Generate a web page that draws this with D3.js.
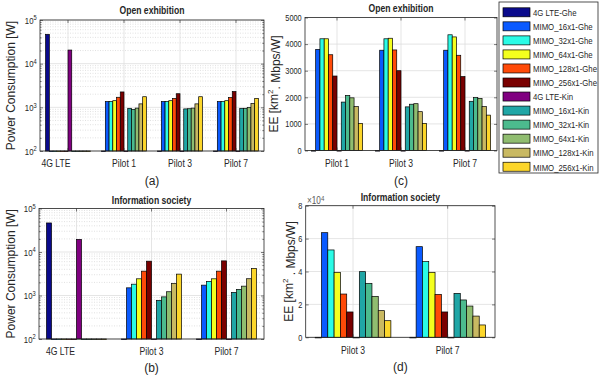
<!DOCTYPE html>
<html>
<head>
<meta charset="utf-8">
<script src="https://cdn.jsdelivr.net/npm/d3@7"></script>
<style>
body { margin: 0; background: #fff; }
svg text { font-family: "Liberation Sans", Arial, sans-serif; fill: #262626; }
</style>
</head>
<body>
<svg id="fig" width="600" height="381"></svg>
<script>
// series (legend order)
const seriesNames = ["4G LTE-Ghe", "MIMO_16x1-Ghe", "MIMO_32x1-Ghe", "MIMO_64x1-Ghe", "MIMO_128x1-Ghe", "MIMO_256x1-Ghe",
  "4G LTE-Kin", "MIMO_16x1-Kin", "MIMO_32x1-Kin", "MIMO_64x1-Kin", "MIMO_128x1-Kin", "MIMO_256x1-Kin"];
const seriesColors = ["#0a0a8c", "#0a5aff", "#2afbe6", "#f4ff1e", "#ff4a08", "#7a0000",
  "#800080", "#20a6a6", "#4cbb8e", "#90bd70", "#c9b962", "#fcd62a"];

// categories
const catsOpenPower = ["4G LTE", "Pilot 1", "Pilot 3", "Pilot 7"];
const catsInfoPower = ["4G LTE", "Pilot 3", "Pilot 7"];
const catsOpenEE = ["Pilot 1", "Pilot 3", "Pilot 7"];
const catsInfoEE = ["Pilot 3", "Pilot 7"];

// power consumption [W], one row per category, one value per series
const powerOpen = [
  [47000, 0, 0, 0, 0, 0, 20500, 0, 0, 0, 0, 0],
  [0, 1350, 1360, 1420, 1700, 2250, 0, 950, 900, 960, 1200, 1750],
  [0, 1350, 1350, 1420, 1600, 2050, 0, 920, 930, 960, 1200, 1750],
  [0, 1350, 1350, 1420, 1680, 2300, 0, 950, 950, 1000, 1230, 1600]
];
const powerInfo = [
  [46500, 0, 0, 0, 0, 0, 19500, 0, 0, 0, 0, 0],
  [0, 1500, 1820, 2420, 3630, 6150, 0, 770, 930, 1220, 1890, 3100],
  [0, 1730, 2110, 2420, 3630, 6250, 0, 1180, 1380, 1640, 2430, 4180]
];

// energy efficiency [km^2 . Mbps/W]
const eeOpen = [
  [0, 3800, 4200, 4200, 3600, 2800, 0, 1820, 2070, 1980, 1650, 1020],
  [0, 3770, 4200, 4220, 3780, 3000, 0, 1640, 1740, 1760, 1460, 1020],
  [0, 3770, 4350, 4270, 3580, 2780, 0, 1850, 1990, 1960, 1650, 1330]
];
const eeInfo = [
  [0, 63600, 53100, 39500, 26300, 15400, 0, 39900, 32800, 24900, 16200, 10100],
  [0, 55100, 46000, 39500, 26100, 15400, 0, 26700, 22700, 19000, 12900, 7500]
];

// tick values
const powerTicks = [1e2, 1e3, 1e4, 1e5];
const eeOpenTicks = [0, 1000, 2000, 3000, 4000, 5000];
const eeInfoTicks = [0, 20000, 40000, 60000, 80000];

const svg = d3.select("#fig");
const axisColor = "#262626";
const narrow = 0.82; // the figure's horizontal text is condensed

// text placed at (x,y) and squeezed horizontally
function label(parent, x, y, size, str) {
  return parent.append("text")
    .attr("transform", "translate(" + x + "," + y + ") scale(" + narrow + ",1)")
    .attr("dominant-baseline", "central")
    .style("font-size", size + "px").text(str);
}

function drawPanel(p) {
  const w = p.right - p.left, h = p.bottom - p.top;
  const g = svg.append("g").attr("transform", "translate(" + p.left + "," + p.top + ")");

  const x0 = d3.scaleBand().domain(p.cats).range([0, w]).paddingInner(0.2).paddingOuter(0.1);
  const x1 = d3.scaleBand().domain(d3.range(seriesNames.length)).range([0, x0.bandwidth()]);
  const y = p.log
    ? d3.scaleLog().domain(d3.extent(p.ticks)).range([h, 0])
    : d3.scaleLinear().domain(d3.extent(p.ticks)).range([h, 0]);
  const centre = c => x0(c) + x0.bandwidth() / 2;

  // minor values on log axes
  let minor = [];
  if (p.log) {
    for (let k = 0; k < p.ticks.length - 1; k++)
      for (let m = 2; m <= 9; m++) minor.push(p.ticks[k] * m);
  }

  // grid
  g.append("g").selectAll("line").data(minor).join("line")
    .attr("x1", 0).attr("x2", w).attr("y1", d => y(d)).attr("y2", d => y(d))
    .attr("stroke", "#d4d4d4").attr("stroke-width", 0.7).attr("stroke-dasharray", "1,1.5");
  g.append("g").selectAll("line").data(p.ticks).join("line")
    .attr("x1", 0).attr("x2", w).attr("y1", d => y(d)).attr("y2", d => y(d))
    .attr("stroke", "#dedede").attr("stroke-width", 0.8);
  g.append("g").selectAll("line").data(p.cats).join("line")
    .attr("x1", centre).attr("x2", centre).attr("y1", 0).attr("y2", h)
    .attr("stroke", "#dedede").attr("stroke-width", 0.8);

  // bars
  const groups = g.append("g").selectAll("g").data(p.data).join("g")
    .attr("transform", (d, i) => "translate(" + x0(p.cats[i]) + ",0)");
  groups.selectAll("rect").data(d => d.map((v, j) => ({ v: v, j: j }))).join("rect")
    .attr("x", d => x1(d.j))
    .attr("width", x1.bandwidth())
    .attr("y", d => d.v > y.domain()[0] ? y(d.v) : h)
    .attr("height", d => d.v > y.domain()[0] ? h - y(d.v) : 0.6)
    .attr("fill", d => seriesColors[d.j])
    .attr("stroke", "#000").attr("stroke-width", 0.7);

  // axes (ticks pointing inward, as in the original)
  const left = d3.axisLeft(y).tickValues(p.ticks).tickSizeInner(-3).tickSizeOuter(0).tickPadding(4);
  if (p.log) left.tickFormat(() => "");
  else left.tickFormat(p.fmt);
  const la = g.append("g").call(left);
  la.selectAll(".tick text").style("font-size", "9px");
  if (p.log) {
    la.selectAll(".tick text").style("font-size", "9.5px").each(function (d) {
      const t = d3.select(this);
      t.append("tspan").text("10");
      t.append("tspan").attr("dy", "-0.45em").style("font-size", "7px").text(Math.round(Math.log10(d)));
    });
  }
  g.append("g").attr("transform", "translate(" + w + ",0)")
    .call(d3.axisRight(y).tickValues(p.ticks).tickSizeInner(-3).tickSizeOuter(0).tickFormat(() => ""));
  if (p.log) {
    g.append("g").call(d3.axisLeft(y).tickValues(minor).tickSizeInner(-1.6).tickSizeOuter(0).tickFormat(() => ""));
    g.append("g").attr("transform", "translate(" + w + ",0)")
      .call(d3.axisRight(y).tickValues(minor).tickSizeInner(-1.6).tickSizeOuter(0).tickFormat(() => ""));
  }
  const ba = g.append("g").attr("transform", "translate(0," + h + ")")
    .call(d3.axisBottom(x0).tickSizeInner(-3).tickSizeOuter(0).tickPadding(9));
  ba.selectAll(".tick text").style("font-size", "10.5px")
    .attr("dx", d => d === "4G LTE" ? p.lteDx / narrow : 0);
  g.append("g").call(d3.axisTop(x0).tickSizeInner(-3).tickSizeOuter(0).tickFormat(() => ""));

  g.selectAll(".domain").remove();
  g.selectAll(".tick line").attr("stroke", axisColor).attr("stroke-width", 0.6);
  g.selectAll(".tick text").attr("fill", axisColor).attr("transform", "scale(" + narrow + ",1)");

  // frame
  g.append("rect").attr("width", w).attr("height", h)
    .attr("fill", "none").attr("stroke", axisColor).attr("stroke-width", 0.8);

  // title
  label(g, w / 2, p.titleY - p.top, 10.5, p.title)
    .attr("text-anchor", "middle").style("font-weight", "bold");

  // y label (vertical text is not condensed)
  const yl = svg.append("text")
    .attr("transform", "translate(" + p.ylabelX + "," + (p.top + h / 2) + ") rotate(-90)")
    .attr("text-anchor", "middle").attr("dominant-baseline", "central")
    .style("font-size", "12px");
  p.ylabel.forEach(part => {
    const ts = yl.append("tspan").text(part.t);
    if (part.sup) ts.attr("dy", "-0.45em").style("font-size", "8px");
    if (part.down) ts.attr("dy", "0.45em");
  });

  // panel tag
  svg.append("text").attr("x", p.left + w / 2).attr("y", p.tagY)
    .attr("text-anchor", "middle").attr("dominant-baseline", "central")
    .style("font-size", "12px").text(p.tag);
}

const powerLabel = [{ t: "Power Consumption [W]" }];

drawPanel({
  left: 40, right: 264, top: 20, bottom: 151, cats: catsOpenPower, data: powerOpen,
  log: true, ticks: powerTicks, title: "Open exhibition", titleY: 10,
  ylabel: powerLabel, ylabelX: 11, tag: "(a)", tagY: 181, lteDx: -12
});

drawPanel({
  left: 39, right: 264, top: 208.5, bottom: 339, cats: catsInfoPower, data: powerInfo,
  log: true, ticks: powerTicks, title: "Information society", titleY: 200,
  ylabel: powerLabel, ylabelX: 11, tag: "(b)", tagY: 368, lteDx: -16
});

drawPanel({
  left: 305, right: 497, top: 17.5, bottom: 150.5, cats: catsOpenEE, data: eeOpen,
  log: false, ticks: eeOpenTicks, fmt: d3.format("d"), title: "Open exhibition", titleY: 8,
  ylabel: [{ t: "EE [km" }, { t: "2", sup: true }, { t: ". Mbps/W]", down: true }],
  ylabelX: 274, tag: "(c)", tagY: 181, lteDx: 0
});

drawPanel({
  left: 305.7, right: 495, top: 205.7, bottom: 337.3, cats: catsInfoEE, data: eeInfo,
  log: false, ticks: eeInfoTicks, fmt: d => d / 1e4, title: "Information society", titleY: 197,
  ylabel: [{ t: "EE [km" }, { t: "2", sup: true }, { t: " . Mbps/W]", down: true }],
  ylabelX: 289, tag: "(d)", tagY: 367, lteDx: 0
});

// exponent note of panel (d)
const expo = label(svg, 307, 201, 10, null).style("fill", "#5a5a5a");
expo.append("tspan").text("\u00d710");
expo.append("tspan").attr("dy", "-0.45em").style("font-size", "7.5px").text("4");

// legend
const leg = svg.append("g").attr("transform", "translate(499,2)");
leg.append("rect").attr("width", 99).attr("height", 171)
  .attr("fill", "#fff").attr("stroke", axisColor).attr("stroke-width", 0.8);
const rows = leg.selectAll("g.row").data(seriesNames).join("g").attr("class", "row")
  .attr("transform", (d, i) => "translate(4," + (10.3 + i * 14.04) + ")");
rows.append("rect").attr("y", -4.5).attr("width", 27).attr("height", 9)
  .attr("fill", (d, i) => seriesColors[i]).attr("stroke", "#000").attr("stroke-width", 0.7);
rows.each(function (d) { label(d3.select(this), 30, 0.5, 9.5, d); });
</script>
</body>
</html>
